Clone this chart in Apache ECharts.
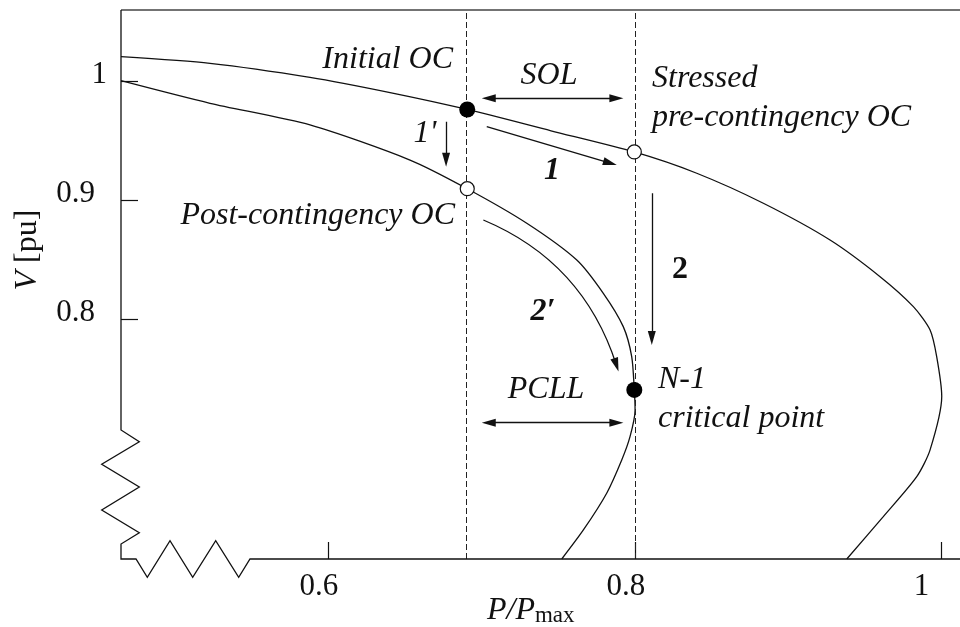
<!DOCTYPE html>
<html>
<head>
<meta charset="utf-8">
<title>PV curves</title>
<script src="https://cdn.jsdelivr.net/npm/echarts@6/dist/echarts.min.js"></script>
<style>
  html, body { margin: 0; padding: 0; background: #fff; }
  #chart { width: 960px; height: 627px; }
</style>
</head>
<body>
<div id="chart"></div>
<script>
// pre-contingency PV curve (P/Pmax, V in pu)
const preP = [0.4651, 0.5231, 0.5883, 0.6405, 0.6908, 0.7454, 0.7997, 0.8404, 0.8838, 0.9273,
  0.9599, 0.9816, 0.9925, 0.9968, 1.0001, 0.9925, 0.9838, 0.9620, 0.9382];
const preV = [1.0205, 1.0149, 1.0031, 0.9903, 0.9761, 0.9582, 0.9404, 0.9225, 0.8973, 0.8664,
  0.8356, 0.8104, 0.7908, 0.7684, 0.7350, 0.6900, 0.6675, 0.6339, 0.5983];

// post-contingency PV curve
const postP = [0.4651, 0.5231, 0.5883, 0.6535, 0.6908, 0.7296, 0.7622, 0.7795, 0.7925, 0.7980,
  0.7997, 0.8002, 0.7969, 0.7915, 0.7817, 0.7665, 0.7524];
const postV = [1.0003, 0.9813, 0.9631, 0.9336, 0.9095, 0.8805, 0.8496, 0.8216, 0.7936, 0.7684,
  0.7404, 0.7236, 0.7011, 0.6815, 0.6536, 0.6227, 0.5983];

// operating conditions: filled = initial OC, N-1 critical point; open = post-contingency, stressed
const filledP = [0.6908, 0.7997];
const filledV = [0.9761, 0.7404];
const openP = [0.6908, 0.7997];
const openV = [0.9095, 0.9404];

// vertical dashed limits
const limitP = [0.6908, 0.7997];

const xTicks = [0.6, 0.8, 1];
const yTicks = [0.8, 0.9, 1];

// annotation arrows [[p0, v0], [p1, v1]]
const solArrow = [[0.7048, 0.9855], [0.7880, 0.9855]];
const pcllArrow = [[0.7048, 0.7129], [0.7880, 0.7129]];
const arrow1 = [[0.7035, 0.9616], [0.7839, 0.9311]];
const arrow1p = [[0.6770, 0.9658], [0.6770, 0.9339]];
const arrow2 = [[0.8111, 0.9057], [0.8111, 0.7841]];
const arrow2p = [[0.7013, 0.8832], [0.7880, 0.7614]];

const zip = (a, b) => a.map((v, i) => [v, b[i]]);

const ink = '#111';
const serif = '"Liberation Serif", "Times New Roman", serif';
const head = [8, 14];

// frame of the plot, with the broken-axis zigzags at the lower left
const gridL = 121, gridT = 10, gridB = 559;
const framePts = [[gridL, gridT], [gridL, 430], [139.3, 441.7], [101.7, 464.3], [139.3, 487],
  [101.7, 510], [139.3, 532.7], [gridL, 544], [gridL, gridB], [136, gridB], [147.3, 577.3],
  [170, 540.7], [192.7, 577.3], [215.7, 540.7], [238.7, 577.3], [250, gridB], [960, gridB]];

function txt(text, x, y, align, font, extra) {
  return {
    type: 'text', x: x, y: y, z: 100,
    style: Object.assign({
      text: text, fill: ink, font: font || ('italic 32px ' + serif),
      align: align, verticalAlign: 'middle'
    }, extra || {})
  };
}

const chart = echarts.init(document.getElementById('chart'));

chart.setOption({
  animation: false,
  backgroundColor: '#fff',
  grid: { left: gridL, right: 0, top: gridT, bottom: 627 - gridB, containLabel: false, outerBoundsMode: 'none' },
  xAxis: {
    type: 'value', min: 0.4651, max: 1.012,
    splitLine: { show: false },
    axisLine: { show: false },
    axisTick: { customValues: xTicks, inside: true, length: 17, lineStyle: { color: ink, width: 1.2 } },
    axisLabel: {
      customValues: xTicks, margin: 12, color: ink,
      formatter: v => (v === 1 ? '{w|1}' : '{n|' + v + '}'),
      rich: {
        n: { fontSize: 31, fontFamily: serif, color: ink, padding: [0, 18, 0, 0] },
        w: { fontSize: 31, fontFamily: serif, color: ink, padding: [0, 40, 0, 0] }
      }
    }
  },
  yAxis: {
    type: 'value', min: 0.5983, max: 1.0597,
    splitLine: { show: false },
    axisLine: { show: false },
    axisTick: { customValues: yTicks, inside: true, length: 17, lineStyle: { color: ink, width: 1.2 } },
    axisLabel: {
      customValues: yTicks, margin: 14, color: ink,
      formatter: v => (v === 1 ? '{w|1}' : '{n|' + v + '}'),
      rich: {
        n: { fontSize: 31, fontFamily: serif, color: ink, padding: [0, 12, 13, 0] },
        w: { fontSize: 31, fontFamily: serif, color: ink, padding: [0, 0, 13, 0] }
      }
    }
  },
  graphic: [
    { type: 'polyline', z: 50, shape: { points: [[gridL, gridT], [960, gridT]] },
      style: { stroke: '#444', lineWidth: 1.6, fill: null } },
    { type: 'polyline', z: 50, shape: { points: framePts },
      style: { stroke: ink, lineWidth: 1.3, fill: null } },
    txt('Initial OC', 453, 60, 'right'),
    txt('SOL', 549, 76, 'center'),
    txt('Stressed', 652, 79, 'left'),
    txt('pre-contingency OC', 652, 118, 'left'),
    txt('1', 552, 171, 'center', 'italic bold 32px ' + serif),
    txt("1'", 425, 134, 'center'),
    txt('Post-contingency OC', 455, 216, 'right'),
    txt('2\u2032', 543, 312, 'center', 'italic bold 32px ' + serif),
    txt('2', 680, 270, 'center', 'bold 32px ' + serif),
    txt('PCLL', 546, 390, 'center'),
    txt('N-1', 658, 380, 'left'),
    txt('critical point', 658, 419, 'left'),
    {
      type: 'text', x: 28, y: 250, rotation: Math.PI / 2, z: 100,
      style: {
        text: '{i|V\u00a0}{r|[pu]}', align: 'center', verticalAlign: 'middle',
        rich: {
          i: { font: 'italic 32px ' + serif, fill: ink },
          r: { font: '32px ' + serif, fill: ink }
        }
      }
    },
    {
      type: 'text', x: 487, y: 611, z: 100,
      style: {
        text: '{i|P/P}{s|max}', align: 'left', verticalAlign: 'middle',
        rich: {
          i: { font: 'italic 32px ' + serif, fill: ink, verticalAlign: 'bottom' },
          s: { font: '23px ' + serif, fill: ink, verticalAlign: 'bottom' }
        }
      }
    }
  ],
  series: [
    {
      name: 'Pre-contingency', type: 'line', data: zip(preP, preV),
      smooth: 0.25, symbol: 'none', silent: true,
      lineStyle: { color: ink, width: 1.3 },
      markLine: {
        silent: true, symbol: ['none', 'none'],
        label: { show: false },
        lineStyle: { color: '#222', width: 1, type: [6, 3] },
        data: limitP.map(p => ({ xAxis: p }))
      }
    },
    {
      name: 'Post-contingency', type: 'line', data: zip(postP, postV),
      smooth: 0.25, symbol: 'none', silent: true,
      lineStyle: { color: ink, width: 1.3 }
    },
    {
      name: 'Double arrows', type: 'lines', coordinateSystem: 'cartesian2d', silent: true,
      symbol: ['triangle', 'triangle'], symbolSize: [head, head],
      lineStyle: { color: ink, width: 1.3, opacity: 1 },
      data: [{ coords: solArrow }, { coords: pcllArrow }]
    },
    {
      name: 'Arrows', type: 'lines', coordinateSystem: 'cartesian2d', silent: true,
      symbol: ['none', 'triangle'], symbolSize: [head, head],
      lineStyle: { color: ink, width: 1.3, opacity: 1 },
      data: [{ coords: arrow1 }, { coords: arrow1p }, { coords: arrow2 }]
    },
    {
      name: 'Curved arrow', type: 'lines', coordinateSystem: 'cartesian2d', silent: true,
      symbol: ['none', 'triangle'], symbolSize: [head, head],
      lineStyle: { color: ink, width: 1.3, opacity: 1, curveness: 0.23 },
      data: [{ coords: arrow2p }]
    },
    {
      name: 'Open OC', type: 'scatter', data: zip(openP, openV), z: 10, silent: true,
      symbol: 'circle', symbolSize: 14,
      itemStyle: { color: '#fff', borderColor: ink, borderWidth: 1.2, opacity: 1 }
    },
    {
      name: 'Filled OC', type: 'scatter', data: zip(filledP, filledV), z: 10, silent: true,
      symbol: 'circle', symbolSize: 16,
      itemStyle: { color: '#000', opacity: 1 }
    }
  ]
});
</script>
</body>
</html>
